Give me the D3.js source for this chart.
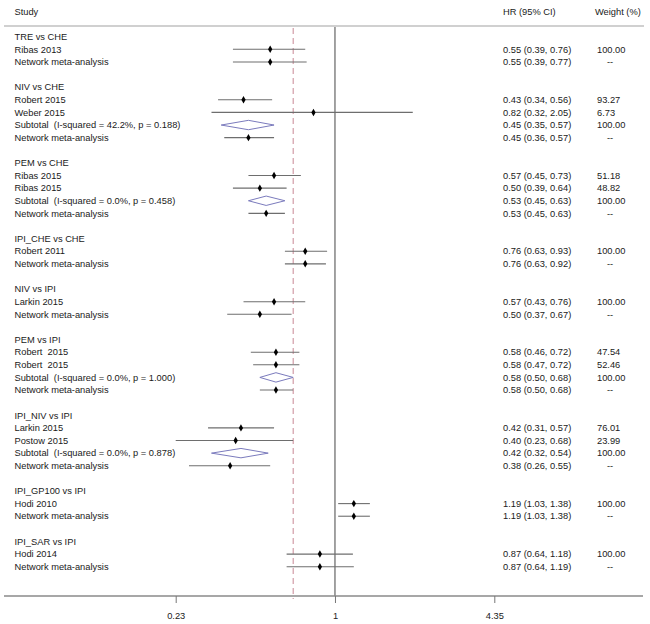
<!DOCTYPE html>
<html>
<head>
<meta charset="utf-8">
<script src="https://cdn.jsdelivr.net/npm/d3@7"></script>
<style>
  html, body { margin: 0; padding: 0; background: #fff; }
  svg { display: block; font-family: "Liberation Sans", Arial, sans-serif; }
  text { white-space: pre; }
</style>
</head>
<body>
<svg id="chart" width="650" height="624"></svg>
<script>
// ---- data ----
const groupTitles = ["TRE vs CHE", "NIV vs CHE", "PEM vs CHE", "IPI_CHE vs CHE", "NIV vs IPI",
  "PEM vs IPI", "IPI_NIV vs IPI", "IPI_GP100 vs IPI", "IPI_SAR vs IPI"];
// per group: study labels
const studyLabels = [
  ["Ribas 2013", "Network meta-analysis"],
  ["Robert 2015", "Weber 2015", "Subtotal  (I-squared = 42.2%, p = 0.188)", "Network meta-analysis"],
  ["Ribas 2015", "Ribas 2015", "Subtotal  (I-squared = 0.0%, p = 0.458)", "Network meta-analysis"],
  ["Robert 2011", "Network meta-analysis"],
  ["Larkin 2015", "Network meta-analysis"],
  ["Robert  2015", "Robert  2015", "Subtotal  (I-squared = 0.0%, p = 1.000)", "Network meta-analysis"],
  ["Larkin 2015", "Postow 2015", "Subtotal  (I-squared = 0.0%, p = 0.878)", "Network meta-analysis"],
  ["Hodi 2010", "Network meta-analysis"],
  ["Hodi 2014", "Network meta-analysis"]
];
// row kind: s = study, d = subtotal diamond, n = network estimate
const rowKinds = [
  ["s", "n"], ["s", "s", "d", "n"], ["s", "s", "d", "n"], ["s", "n"], ["s", "n"],
  ["s", "s", "d", "n"], ["s", "s", "d", "n"], ["s", "n"], ["s", "n"]
];
const hrValues = [
  [0.55, 0.55], [0.43, 0.82, 0.45, 0.45], [0.57, 0.50, 0.53, 0.53], [0.76, 0.76], [0.57, 0.50],
  [0.58, 0.58, 0.58, 0.58], [0.42, 0.40, 0.42, 0.38], [1.19, 1.19], [0.87, 0.87]
];
const ciLower = [
  [0.39, 0.39], [0.34, 0.32, 0.35, 0.36], [0.45, 0.39, 0.45, 0.45], [0.63, 0.63], [0.43, 0.37],
  [0.46, 0.47, 0.50, 0.50], [0.31, 0.23, 0.32, 0.26], [1.03, 1.03], [0.64, 0.64]
];
const ciUpper = [
  [0.76, 0.77], [0.56, 2.05, 0.57, 0.57], [0.73, 0.64, 0.63, 0.63], [0.93, 0.92], [0.76, 0.67],
  [0.72, 0.72, 0.68, 0.68], [0.57, 0.68, 0.54, 0.55], [1.38, 1.38], [1.18, 1.19]
];
const weights = [
  ["100.00", "--"], ["93.27", "6.73", "100.00", "--"], ["51.18", "48.82", "100.00", "--"],
  ["100.00", "--"], ["100.00", "--"], ["47.54", "52.46", "100.00", "--"],
  ["76.01", "23.99", "100.00", "--"], ["100.00", "--"], ["100.00", "--"]
];
const axisTicks = [0.23, 1, 4.35];
const axisTickLabels = ["0.23", "1", "4.35"];
const overallLine = 0.68;

// ---- build rows ----
const rows = [];
groupTitles.forEach((g, gi) => {
  rows.push({ type: "title", label: g });
  studyLabels[gi].forEach((lab, j) => {
    rows.push({ type: rowKinds[gi][j], label: lab, hr: hrValues[gi][j], lo: ciLower[gi][j],
      hi: ciUpper[gi][j], w: weights[gi][j] });
  });
  if (gi < groupTitles.length - 1) rows.push({ type: "blank" });
});

const svg = d3.select("#chart");
const fmt = d3.format(".2f");
const x = d3.scaleLog().domain([0.23, 4.35]).range([175.7, 494.3]);
const y = d3.scaleLinear().domain([0, rows.length - 1]).range([36.7, 566.7]);
const axisY = 596;
const fontSize = "9.3px";
const textCol = "#1a1a1a";

// header
svg.append("text").attr("x", 14.5).attr("y", 12).attr("dy", "0.35em")
  .attr("font-size", fontSize).attr("fill", textCol).text("Study");
svg.append("text").attr("x", 503).attr("y", 12).attr("dy", "0.35em")
  .attr("font-size", fontSize).attr("fill", textCol).text("HR (95% CI)");
svg.append("text").attr("x", 595).attr("y", 12).attr("dy", "0.35em")
  .attr("font-size", fontSize).attr("fill", textCol).text("Weight (%)");
svg.append("line").attr("x1", 4).attr("x2", 644).attr("y1", 26).attr("y2", 26)
  .attr("stroke", "#d0d0d0").attr("stroke-width", 2);

// reference lines
svg.append("line").attr("x1", x(1)).attr("x2", x(1)).attr("y1", 27).attr("y2", axisY)
  .attr("stroke", "#555").attr("stroke-width", 1.1);
svg.append("line").attr("x1", x(overallLine)).attr("x2", x(overallLine)).attr("y1", 28).attr("y2", axisY + 3)
  .attr("stroke", "#c98895").attr("stroke-width", 1).attr("stroke-dasharray", "6,4");

// rows
const rg = svg.append("g");
rows.forEach((r, i) => {
  if (r.type === "blank") return;
  const yy = y(i);
  rg.append("text").attr("x", 14.5).attr("y", yy).attr("dy", "0.35em")
    .attr("font-size", fontSize).attr("fill", textCol).text(r.label);
  if (r.type === "title") return;
  rg.append("text").attr("x", 503).attr("y", yy).attr("dy", "0.35em")
    .attr("font-size", fontSize).attr("fill", textCol)
    .text(`${fmt(r.hr)} (${fmt(r.lo)}, ${fmt(r.hi)})`);
  rg.append("text").attr("x", r.w === "--" ? 607 : 597).attr("y", yy).attr("dy", "0.35em")
    .attr("font-size", fontSize).attr("fill", textCol).text(r.w);
  if (r.type === "d") {
    const h = 4.7;
    rg.append("path")
      .attr("d", `M${x(r.lo)},${yy} L${x(r.hr)},${yy - h} L${x(r.hi)},${yy} L${x(r.hr)},${yy + h} Z`)
      .attr("fill", "#fff").attr("stroke", "#7b7bbd").attr("stroke-width", 1);
  } else {
    rg.append("line").attr("x1", x(r.lo)).attr("x2", x(r.hi)).attr("y1", yy).attr("y2", yy)
      .attr("stroke", "#6e6e6e").attr("stroke-width", 1.1);
    rg.append("path").attr("d", d3.symbol(d3.symbolDiamond, 16)())
      .attr("transform", `translate(${x(r.hr)},${yy})`).attr("fill", "#000");
  }
});

// x axis
svg.append("line").attr("x1", 4).attr("x2", 643).attr("y1", axisY).attr("y2", axisY)
  .attr("stroke", "#8a8a8a").attr("stroke-width", 1.5);
const ax = svg.append("g").attr("transform", `translate(0,${axisY})`)
  .call(d3.axisBottom(x).tickValues(axisTicks).tickSize(7).tickPadding(9)
    .tickFormat((d, i) => axisTickLabels[i]));
ax.select(".domain").remove();
ax.selectAll(".tick line").attr("stroke", "#777");
ax.selectAll(".tick text").attr("font-size", fontSize).attr("fill", textCol)
  .attr("font-family", "Liberation Sans, Arial, sans-serif");
</script>
</body>
</html>
